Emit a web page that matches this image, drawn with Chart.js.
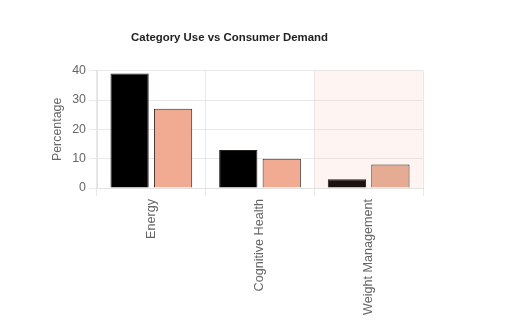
<!DOCTYPE html>
<html>
<head>
<meta charset="utf-8">
<script src="https://cdn.jsdelivr.net/npm/chart.js@4"></script>
<style>
  html, body { margin: 0; padding: 0; background: #ffffff; }
  #wrap { position: relative; width: 506px; height: 328px; }
</style>
</head>
<body>
<div id="wrap"><canvas id="chart"></canvas></div>
<script>
const categories = ['Energy', 'Cognitive Health', 'Weight Management'];
const categoryUse = [39, 13, 3];
const consumerDemand = [27, 10, 8];
const useColors = ['#000000', '#000000', '#1c1311'];
const demandColors = ['#f0ab92', '#f0ab92', '#e6ab93'];
const highlightCategory = 'Weight Management';

const FONT = 'Liberation Sans, Arial, Helvetica, sans-serif';

// Soft band behind the highlighted category
const highlightBand = {
  id: 'highlightBand',
  beforeDatasetsDraw(chart) {
    const x = chart.scales.x, area = chart.chartArea;
    const idx = categories.indexOf(highlightCategory);
    if (idx < 0) return;
    const half = (x.getPixelForValue(1) - x.getPixelForValue(0)) / 2;
    const cx = x.getPixelForValue(idx);
    const ctx = chart.ctx;
    ctx.save();
    ctx.fillStyle = 'rgba(248, 200, 185, 0.2)';
    ctx.fillRect(cx - half, area.top, half * 2, area.bottom - area.top);
    ctx.restore();
  }
};

new Chart(document.getElementById('chart'), {
  type: 'bar',
  data: {
    labels: categories,
    datasets: [
      {
        label: 'Category Use',
        data: categoryUse,
        backgroundColor: useColors,
        borderColor: '#2a1e1b',
        borderWidth: 1,
        barPercentage: 0.88
      },
      {
        label: 'Consumer Demand',
        data: consumerDemand,
        backgroundColor: demandColors,
        borderColor: '#3a2620',
        borderWidth: 1,
        barPercentage: 0.88
      }
    ]
  },
  options: {
    responsive: true,
    maintainAspectRatio: false,
    animation: false,
    layout: { padding: { left: 36, right: 83, top: 31, bottom: 10 } },
    plugins: {
      legend: { display: false },
      tooltip: { enabled: false },
      title: {
        display: true,
        text: 'Category Use vs Consumer Demand',
        color: '#222222',
        font: { family: FONT, size: 11.4, weight: 'bold' },
        padding: { top: 0, bottom: 26 }
      }
    },
    scales: {
      x: {
        grid: { color: '#e8e8e8' },
        border: { color: '#e2e2e2' },
        ticks: {
          color: '#666666',
          font: { family: FONT, size: 12.6 },
          maxRotation: 90,
          minRotation: 90
        }
      },
      y: {
        min: 0,
        max: 40,
        afterFit(scale) { scale.width = 61; },
        ticks: {
          stepSize: 10,
          color: '#666666',
          font: { family: FONT, size: 12.4 }
        },
        grid: { color: '#e8e8e8' },
        border: { color: '#e2e2e2' },
        title: {
          display: true,
          text: 'Percentage',
          color: '#666666',
          font: { family: FONT, size: 12.4 },
          padding: { top: 14, bottom: 4 }
        }
      }
    }
  },
  plugins: [highlightBand]
});
</script>
</body>
</html>
